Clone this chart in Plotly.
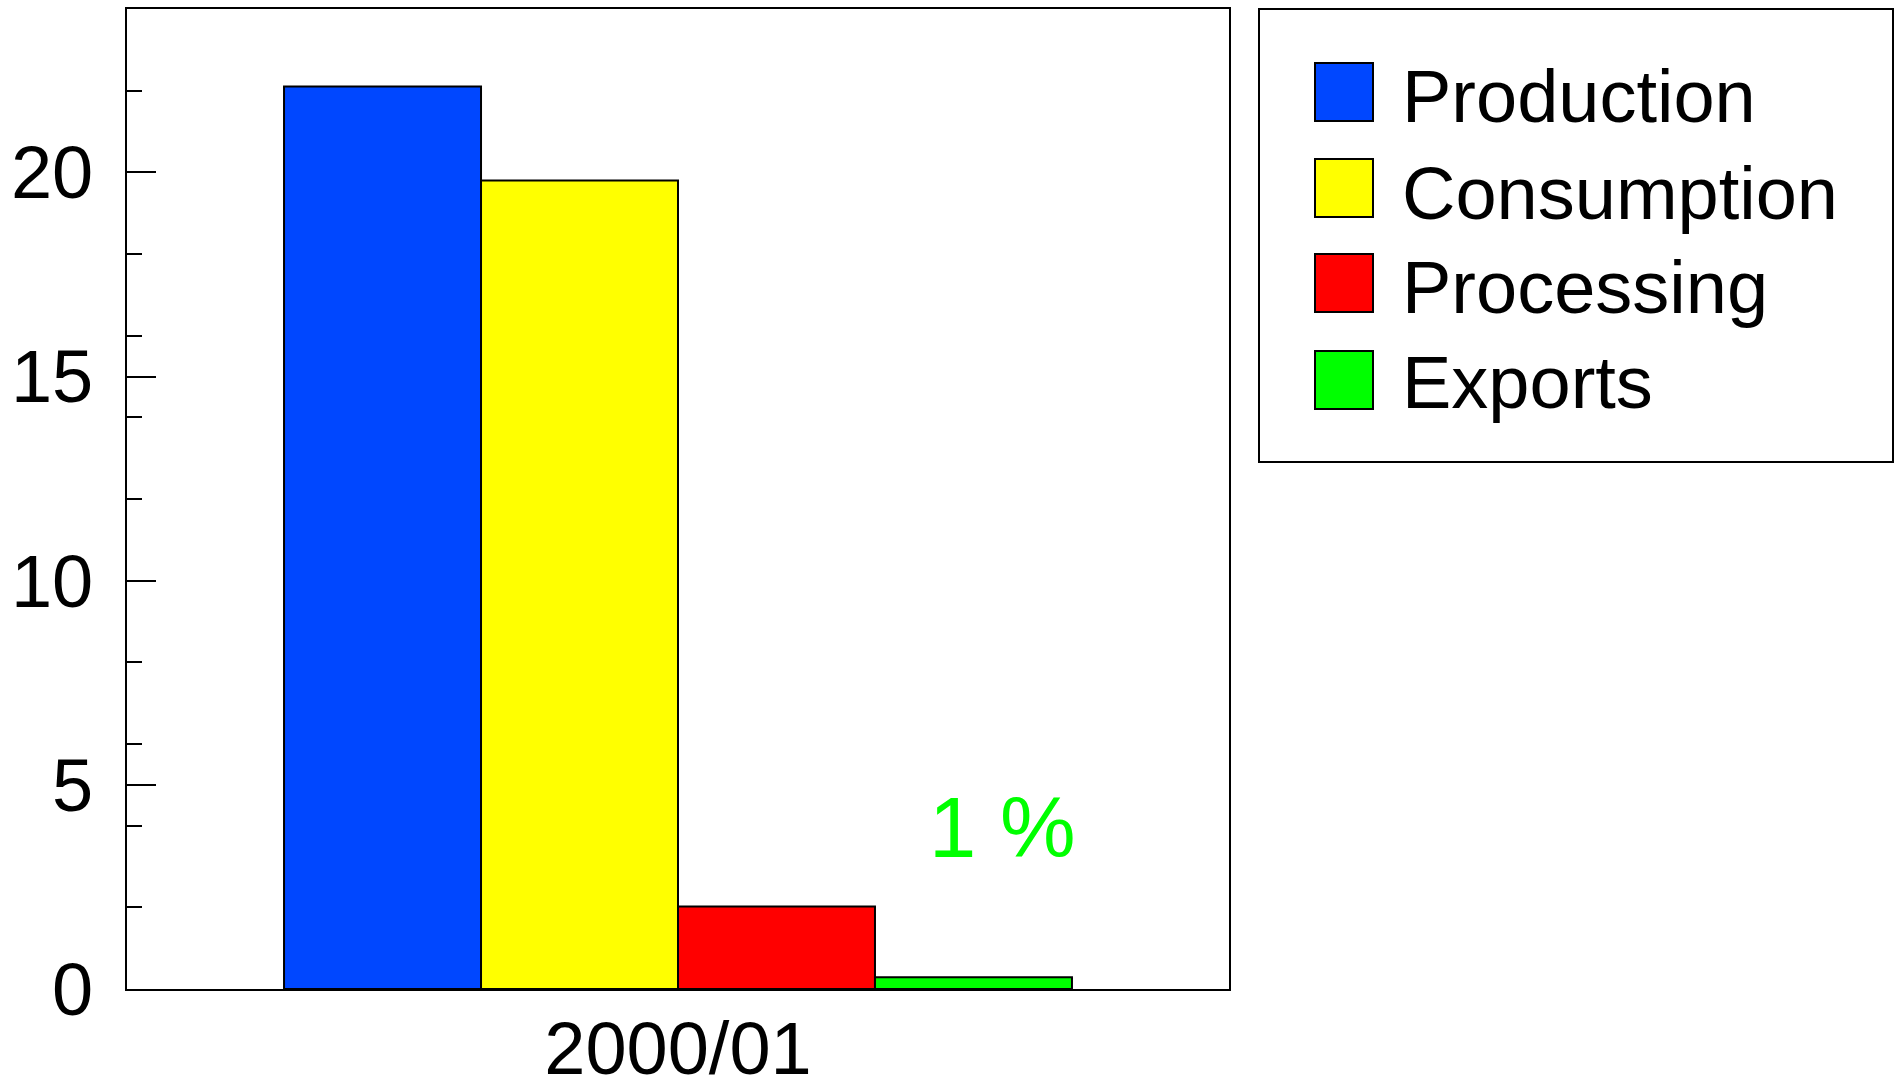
import plotly.graph_objects as go

# ---- data ----
categories = ["2000/01"]
series_names = ["Production", "Consumption", "Processing", "Exports"]
series_values = [[22.1], [19.8], [2.02], [0.29]]
series_colors = ["#0047ff", "#ffff00", "#ff0000", "#00ff00"]
note_text = "1 %"
y_tick_vals = [0, 5, 10, 15, 20]

# ---- layout geometry (pixels) ----
W, H = 1900, 1082
L, R, T, B = 127, 1229, 9, 989


def px(x):
    return (x - L) / (R - L)


def py(y):
    return (B - y) / (B - T)


fig = go.Figure()
for name, vals, col in zip(series_names, series_values, series_colors):
    fig.add_trace(go.Bar(
        x=categories, y=vals, name=name,
        marker=dict(color=col, line=dict(color="black", width=2)),
        showlegend=False,
    ))

tick_font = dict(family="Liberation Sans, Arial, sans-serif", size=74, color="black")

fig.update_layout(
    width=W, height=H,
    margin=dict(l=L, r=W - R, t=T, b=H - B, pad=0, autoexpand=False),
    paper_bgcolor="white", plot_bgcolor="white",
    barmode="group", bargap=0.285, bargroupgap=0,
    showlegend=False,
    font=tick_font,
)
fig.update_xaxes(
    type="category", showline=True, linecolor="black", linewidth=2, mirror=True,
    ticks="", showgrid=False, zeroline=False, tickfont=tick_font,
    ticklabelstandoff=-6, automargin=False,
)
fig.update_yaxes(
    range=[0, 24], tickvals=y_tick_vals, ticks="inside", ticklen=29, tickwidth=2,
    tickcolor="black", showline=True, linecolor="black", linewidth=2, mirror=True,
    showgrid=False, zeroline=False, tickfont=tick_font, ticklabelstandoff=17,
    automargin=False,
    minor=dict(dtick=2, ticks="inside", ticklen=15, tickwidth=2, tickcolor="black",
               showgrid=False),
)

# annotation "1 %"
fig.add_annotation(
    x=0.294, y=3.96, xref="x", yref="y", text=note_text, showarrow=False,
    font=dict(family="Liberation Sans, Arial, sans-serif", size=85, color="#00ff00"),
    xanchor="center", yanchor="middle",
)

# custom legend
shapes = [dict(type="rect", xref="paper", yref="paper",
               x0=px(1259), x1=px(1893), y0=py(462), y1=py(9),
               line=dict(color="black", width=2), fillcolor="white", layer="below")]
sw_tops = [63, 159, 254, 351]
txt_centers = [96.5, 193, 287.5, 382.5]
for name, col, top, tc in zip(series_names, series_colors, sw_tops, txt_centers):
    shapes.append(dict(type="rect", xref="paper", yref="paper",
                       x0=px(1315), x1=px(1373), y0=py(top + 58), y1=py(top),
                       line=dict(color="black", width=2), fillcolor=col))
    fig.add_annotation(
        x=px(1400), y=py(tc), xref="paper", yref="paper", text=name,
        showarrow=False, xanchor="left", yanchor="middle",
        font=dict(family="Liberation Sans, Arial, sans-serif", size=74, color="black"),
    )
fig.update_layout(shapes=shapes)

post_js = """
document.body.style.margin = '0';
document.body.style.overflow = 'hidden';
"""

fig.write_html("out.html", post_script=post_js,
               config={"displayModeBar": False, "staticPlot": True})
